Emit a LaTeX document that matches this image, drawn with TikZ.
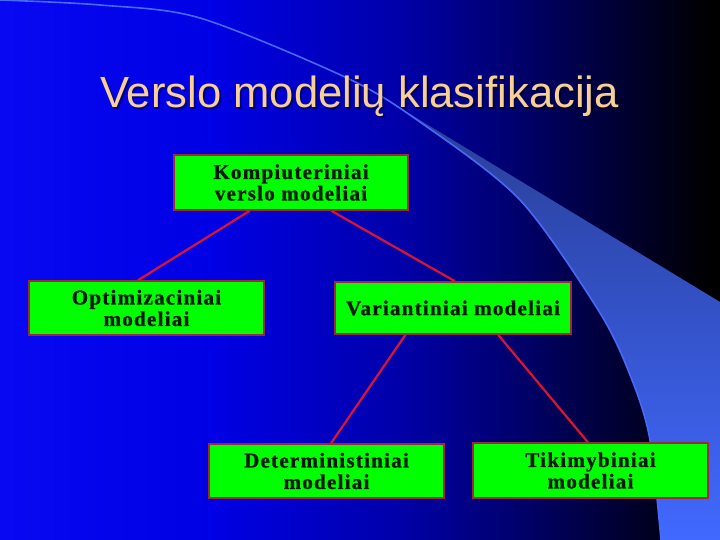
\documentclass[tikz,border=0pt]{standalone}
\usepackage{fontspec}
\setmainfont{Liberation Serif}
\newfontfamily\titlefont{Liberation Sans}
\newfontfamily\boxfont[LetterSpace=6,FakeBold=1]{Liberation Serif}
\usetikzlibrary{calc}
\definecolor{bgA}{RGB}{8,8,242}
\definecolor{bgB}{RGB}{0,0,228}
\definecolor{bgC}{RGB}{0,0,170}
\definecolor{bgD}{RGB}{0,0,115}
\definecolor{bgE}{RGB}{0,0,55}
\definecolor{bgF}{RGB}{0,0,6}
\definecolor{bandA}{RGB}{40,62,150}
\definecolor{bandB}{RGB}{58,95,232}
\definecolor{bandC}{RGB}{65,105,255}
\definecolor{arcline}{RGB}{72,105,245}
\definecolor{boxgreen}{RGB}{0,255,0}
\definecolor{boxborder}{RGB}{160,40,60}
\definecolor{boxtext}{RGB}{5,25,5}
\definecolor{connred}{RGB}{220,20,50}
\definecolor{titlecol}{RGB}{248,208,150}
\pgfdeclarehorizontalshading{bgshade}{100bp}{color(0bp)=(bgA); color(25bp)=(bgA); color(40bp)=(bgB); color(52.5bp)=(bgC); color(60bp)=(bgD); color(67.5bp)=(bgE); color(73.5bp)=(bgF); color(75bp)=(black); color(100bp)=(black)}
\pgfdeclarelayer{back}
\pgfdeclarelayer{mid}
\pgfsetlayers{back,mid,main}
\tikzset{
  box/.style={draw=boxborder, line width=1.5pt, fill=boxgreen, inner sep=0pt,
    align=center, text=boxtext, font=\boxfont\bfseries\fontsize{21}{21.5}\selectfont},
  conn/.style={draw=connred, line width=2.2pt},
  arcstyle/.style={draw=arcline, line width=1.6pt},
  titlestyle/.style={font=\titlefont\fontsize{43.6}{50}\selectfont, anchor=base, inner sep=0pt}
}
\begin{document}
\begin{tikzpicture}[x=1pt,y=-1pt]
\useasboundingbox (0,0) rectangle (720,540);
\begin{pgfonlayer}{back}
  \shade[shading=bgshade] (0,0) rectangle (720,540);
  \begin{scope}
    \clip plot[smooth] coordinates {(0,0) (100,5) (200,18) (347,78) (420,122) (520,200) (600,313) (632,380) (650,440) (661,540)} -- (720,540) -- (720,0) -- cycle;
    \shade[top color=bandA, middle color=bandB, bottom color=bandC] (405,111) -- (720,302) -- (720,540) -- (400,540) -- cycle;
  \end{scope}
  \draw[arcstyle] plot[smooth] coordinates {(0,0) (100,5) (200,18) (347,78) (420,122) (520,200) (600,313) (632,380) (650,440) (661,540)};
\end{pgfonlayer}
\node[titlestyle, text=black, opacity=0.4] (titleshadow) at (361.5,110) {Verslo modelių klasifikacija};
\node[titlestyle, text=titlecol] (title) at (359.5,108) {Verslo modelių klasifikacija};
\node[box, minimum width=234pt, minimum height=55pt] (K) at (291,182.5) {Kompiuteriniai\\verslo modeliai};
\node[box, minimum width=235pt, minimum height=54pt] (O) at (146.5,308) {Optimizaciniai\\modeliai};
\node[box, minimum width=236pt, minimum height=52pt] (V) at (453,308) {Variantiniai modeliai};
\node[box, minimum width=235pt, minimum height=54pt] (D) at (326.5,471) {Deterministiniai\\modeliai};
\node[box, minimum width=235pt, minimum height=55pt] (T) at (590.5,470.5) {Tikimybiniai\\modeliai};
\begin{pgfonlayer}{mid}
  \draw[conn] ($(K.south west)!0.325!(K.south east)$) -- ($(O.north west)!0.464!(O.north east)$);
  \draw[conn] ($(K.south west)!0.671!(K.south east)$) -- ($(V.north west)!0.508!(V.north east)$);
  \draw[conn] ($(V.south west)!0.30!(V.south east)$) -- ($(D.north west)!0.519!(D.north east)$);
  \draw[conn] ($(V.south west)!0.69!(V.south east)$) -- ($(T.north west)!0.489!(T.north east)$);
\end{pgfonlayer}
\end{tikzpicture}
\end{document}
